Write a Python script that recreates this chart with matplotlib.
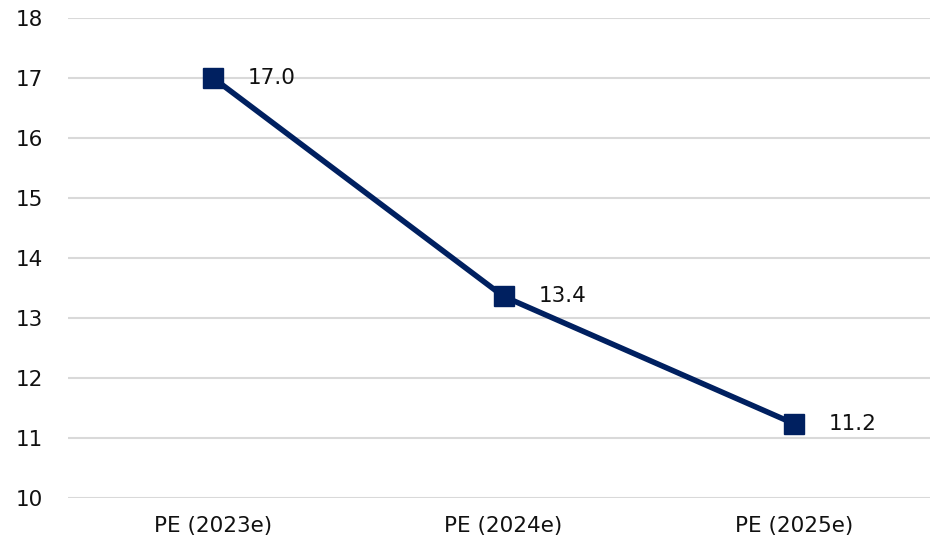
import matplotlib.pyplot as plt

# values
categories = ["PE (2023e)", "PE (2024e)", "PE (2025e)"]
pe_values = [17.0, 13.36, 11.24]
labels = ["17.0", "13.4", "11.2"]
yticks = list(range(10, 19))

navy = "#002060"
plt.rcParams['font.family'] = ['DejaVu Sans']

fig = plt.figure(figsize=(9.3, 5.46), dpi=100)
ax = fig.add_axes([68 / 930, 48 / 546, 871 / 930, 480 / 546])

x = list(range(len(categories)))
ax.plot(x, pe_values, color=navy, linewidth=4, marker='s', markersize=14,
        markerfacecolor=navy, markeredgecolor=navy, zorder=3)

for xi, yi, lab in zip(x, pe_values, labels):
    ax.annotate(lab, (xi, yi), xytext=(25, 0), textcoords='offset points',
                ha='left', va='center', fontsize=15.5, color='#111111')

ax.set_xlim(-0.5, 2.5)
ax.set_ylim(10, 18)
ax.set_yticks(yticks)
ax.set_xticks(x)
ax.set_xticklabels(categories)
ax.grid(axis='y', color='#d9d9d9', linewidth=1.5)
ax.set_axisbelow(True)
for s in ax.spines.values():
    s.set_visible(False)
ax.tick_params(axis='both', length=0, labelsize=15.5, colors='#111111')
ax.tick_params(axis='y', pad=18)
ax.tick_params(axis='x', pad=13)

fig.savefig("out.png", dpi=100)
